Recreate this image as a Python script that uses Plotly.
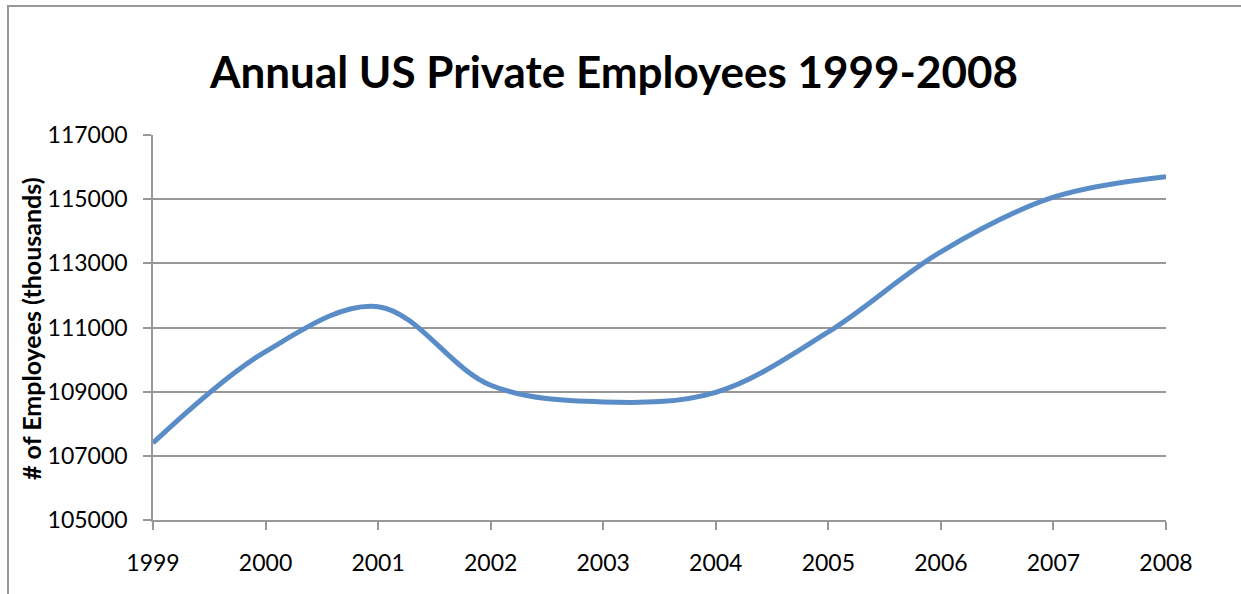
import plotly.graph_objects as go

# Annual US private-sector employment, thousands
years = [1999, 2000, 2001, 2002, 2003, 2004, 2005, 2006, 2007, 2008]
employees = [107400, 110250, 111650, 109200, 108680, 108980, 110860, 113360, 115060, 115700]

y_ticks = [105000, 107000, 109000, 111000, 113000, 115000, 117000]

W, H = 1241, 594
L, R, T, B = 153, 75, 135, 74
plot_w = W - L - R
plot_h = H - T - B

axis_grey = "#989898"
font_family = "Lato, Carlito, Calibri, sans-serif"

fig = go.Figure()
fig.add_trace(go.Scatter(
    x=years, y=employees, mode="lines",
    line=dict(color="#5A8DC8", width=5, shape="spline", smoothing=1.0),
    hoverinfo="x+y", showlegend=False,
))

fig.update_layout(
    width=W, height=H,
    margin=dict(l=L, r=R, t=T, b=B, pad=0),
    paper_bgcolor="white", plot_bgcolor="white",
    font=dict(family=font_family, color="black"),
    title=dict(
        text="<b>Annual US Private Employees 1999-2008</b>",
        font=dict(size=44, family=font_family, color="black"),
        x=614 / W, xref="container", xanchor="center",
        y=1 - 73 / H, yref="container", yanchor="middle",
    ),
    xaxis=dict(
        range=[years[0], years[-1]],
        tickvals=years, ticktext=[str(v) for v in years],
        showgrid=False, zeroline=False,
        showline=True, linecolor=axis_grey, linewidth=1.5,
        ticks="outside", ticklen=8, tickwidth=1.5, tickcolor=axis_grey,
        tickfont=dict(size=23, family=font_family, color="black"),
        ticklabelstandoff=14,
    ),
    yaxis=dict(
        range=[y_ticks[0], y_ticks[-1]],
        tickvals=y_ticks, ticktext=[str(v) for v in y_ticks],
        showgrid=True, gridcolor=axis_grey, gridwidth=1.5,
        zeroline=False,
        showline=True, linecolor=axis_grey, linewidth=1.5,
        ticks="outside", ticklen=8, tickwidth=1.5, tickcolor=axis_grey,
        tickfont=dict(size=23, family=font_family, color="black"),
        ticklabelstandoff=11,
    ),
)

# Rotated y-axis title
fig.add_annotation(
    text="<b># of Employees (thousands)</b>",
    xref="paper", yref="paper",
    x=(31 - L) / plot_w, y=(H - B - 329) / plot_h,
    xanchor="center", yanchor="middle",
    textangle=-90, showarrow=False,
    font=dict(size=25, family=font_family, color="black"),
)

# Chart-area frame (left and top edges visible)
fig.add_shape(
    type="rect", xref="paper", yref="paper",
    x0=(8 - L) / plot_w, x1=(W + 20 - L) / plot_w,
    y0=(H - B - (H + 20)) / plot_h, y1=(H - B - 6) / plot_h,
    line=dict(color=axis_grey, width=2), fillcolor="rgba(0,0,0,0)",
    layer="below",
)

fig.write_html("out.html")
